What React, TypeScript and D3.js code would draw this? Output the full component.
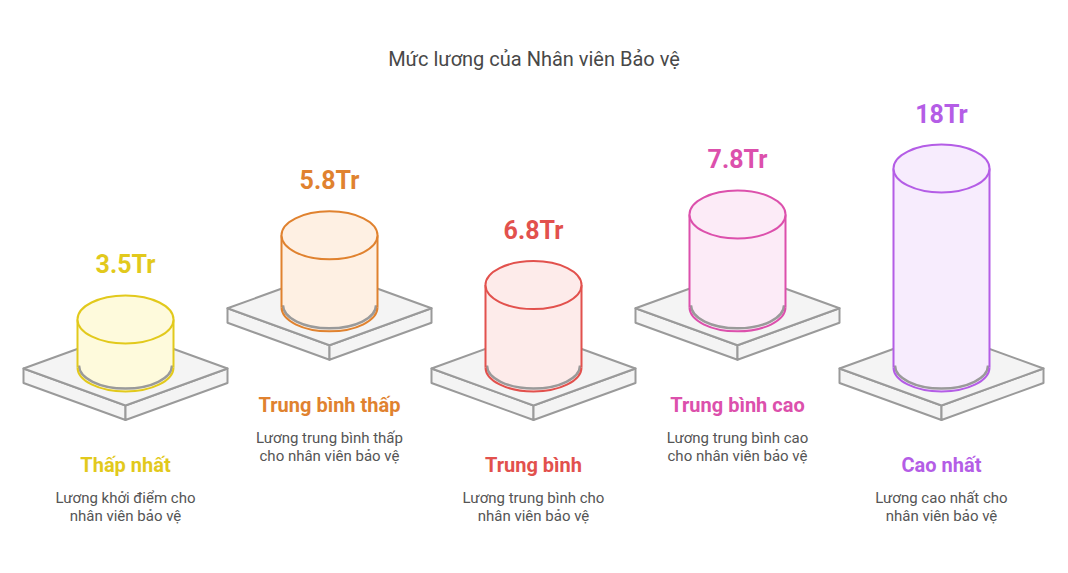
import React from 'react'
import * as d3 from 'd3'

// dữ liệu
const categories = ['Thấp nhất', 'Trung bình thấp', 'Trung bình', 'Trung bình cao', 'Cao nhất']
const salaries = [3.5, 5.8, 6.8, 7.8, 18]
const valueLabels = ['3.5Tr', '5.8Tr', '6.8Tr', '7.8Tr', '18Tr']
const descriptions = [
  ['Lương khởi điểm cho', 'nhân viên bảo vệ'],
  ['Lương trung bình thấp', 'cho nhân viên bảo vệ'],
  ['Lương trung bình cho', 'nhân viên bảo vệ'],
  ['Lương trung bình cao', 'cho nhân viên bảo vệ'],
  ['Lương cao nhất cho', 'nhân viên bảo vệ'],
]
const strokeColors = ['#E2C91C', '#E0822F', '#E2514D', '#DC50AC', '#B45DE6']
const fillColors = ['#FEFADC', '#FEF0E3', '#FDEBEA', '#FCEBF7', '#F7ECFD']

const W = 1068
const H = 573
const FONT = 'Roboto, "Noto Sans", sans-serif'

export default function App() {
  const x = d3.scalePoint<string>().domain(categories).range([125.5, 941.5])
  const h = d3.scaleLinear().domain([0, 18]).range([11.6, 199])
  const levelY = (i: number) => (i % 2 === 0 ? 368.5 : 308.3)

  const pw = 102 // nửa chiều rộng bệ
  const ph = 37 // nửa chiều cao bệ
  const th = 14.5 // độ dày bệ
  const rx = 48
  const ry = 24

  return (
    <svg
      width={W}
      height={H}
      style={{ position: 'absolute', left: 0, top: 0, background: '#fff' }}
      fontFamily={FONT}
    >
      <text x={534} y={66} textAnchor="middle" fontSize={20} fill="#484848">
        Mức lương của Nhân viên Bảo vệ
      </text>

      {categories.map((c, i) => {
        const cx = x(c)!
        const cy = levelY(i)
        const top = `M${cx - pw},${cy} L${cx},${cy - ph} L${cx + pw},${cy} L${cx},${cy + ph} Z`
        const left = `M${cx - pw},${cy} L${cx},${cy + ph} L${cx},${cy + ph + th} L${cx - pw},${cy + th} Z`
        const right = `M${cx + pw},${cy} L${cx},${cy + ph} L${cx},${cy + ph + th} L${cx + pw},${cy + th} Z`

        const by = cy - 1
        const ty = by - h(salaries[i])
        const body = `M${cx - rx},${ty} L${cx - rx},${by} A${rx},${ry} 0 0 0 ${cx + rx},${by} L${cx + rx},${ty} Z`
        const sides = `M${cx - rx},${ty} L${cx - rx},${by} M${cx + rx},${ty} L${cx + rx},${by}`
        const bottomArc = `M${cx - rx},${by} A${rx},${ry} 0 0 0 ${cx + rx},${by}`
        const shadowArc = `M${cx - rx + 1.5},${by - 2} A${rx - 1.5},${ry - 1} 0 0 0 ${cx + rx - 1.5},${by - 2}`
        const baseBottom = cy + ph + th

        return (
          <g key={c}>
            <g fill="#F4F4F4" stroke="#9A9A9A" strokeWidth={2} strokeLinejoin="round">
              <path d={left} />
              <path d={right} />
              <path d={top} />
            </g>

            <path d={body} fill={fillColors[i]} stroke="none" />
            <path d={shadowArc} fill="none" stroke="#9A9A9A" strokeWidth={2.5} />
            <path d={sides} fill="none" stroke={strokeColors[i]} strokeWidth={2} />
            <path d={bottomArc} fill="none" stroke={strokeColors[i]} strokeWidth={2} />
            <ellipse cx={cx} cy={ty} rx={rx} ry={ry} fill={fillColors[i]} stroke={strokeColors[i]} strokeWidth={2} />

            <text x={cx} y={ty - ry - 22} textAnchor="middle" fontSize={25} fontWeight="bold" fill={strokeColors[i]}>
              {valueLabels[i]}
            </text>

            <text x={cx} y={baseBottom + 52} textAnchor="middle" fontSize={20} fontWeight="bold" fill={strokeColors[i]}>
              {c}
            </text>
            {descriptions[i].map((line, j) => (
              <text key={j} x={cx} y={baseBottom + 83 + j * 18} textAnchor="middle" fontSize={15} fill="#555">
                {line}
              </text>
            ))}
          </g>
        )
      })}
    </svg>
  )
}
